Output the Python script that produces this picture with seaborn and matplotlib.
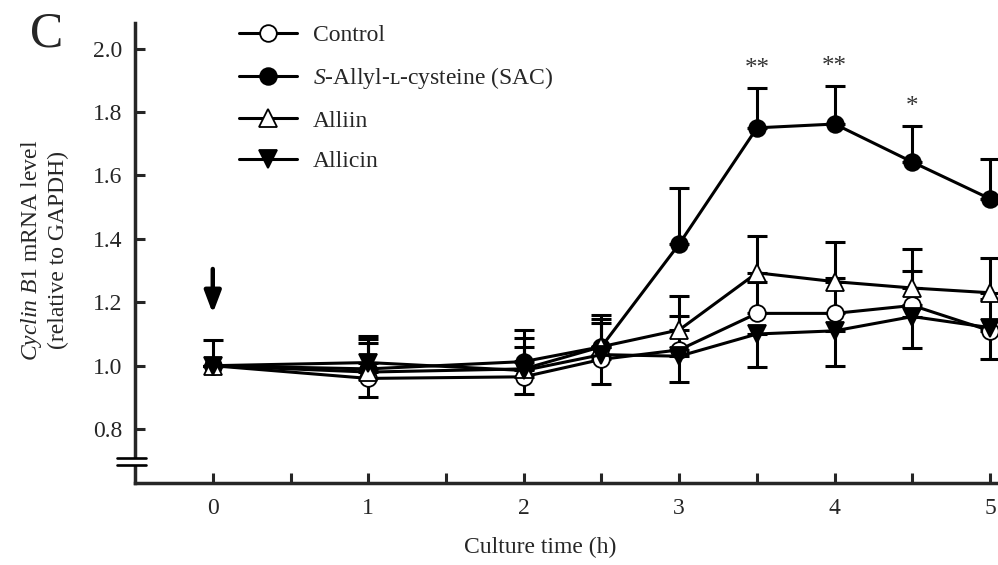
import numpy as np
import pandas as pd
import matplotlib
matplotlib.use("Agg")
import matplotlib.pyplot as plt
import matplotlib.transforms as mtransforms
import seaborn as sns

# ── data ──────────────────────────────────────────────────────
times = [0, 1, 2, 2.5, 3, 3.5, 4, 4.5, 5]

control = [1.00, 0.96, 0.965, 1.02, 1.05, 1.165, 1.165, 1.19, 1.11]
control_hi = [0.08, 0, 0, 0, 0.107, 0.10, 0.112, 0.11, 0.10]
control_lo = [0, 0.06, 0.053, 0.077, 0, 0, 0, 0, 0]

sac = [1.00, 0.99, 1.013, 1.06, 1.384, 1.75, 1.762, 1.642, 1.526]
sac_hi = [0, 0.104, 0.10, 0.10, 0.176, 0.126, 0.12, 0.114, 0.126]
sac_lo = [0, 0, 0, 0, 0, 0, 0, 0, 0]

alliin = [1.00, 0.98, 0.99, 1.06, 1.113, 1.293, 1.265, 1.245, 1.23]
alliin_hi = [0, 0.105, 0.098, 0.088, 0.107, 0.117, 0.125, 0.123, 0.11]
alliin_lo = [0, 0, 0, 0, 0, 0, 0, 0, 0]

allicin = [1.00, 1.01, 0.985, 1.035, 1.03, 1.10, 1.11, 1.155, 1.12]
allicin_hi = [0, 0.062, 0.075, 0.10, 0, 0, 0, 0, 0]
allicin_lo = [0, 0, 0, 0, 0.08, 0.103, 0.11, 0.098, 0.098]

labels = ["Control",
          "$\\mathit{S}$-Allyl-\u029f-cysteine (SAC)",
          "Alliin",
          "Allicin"]
sig_times = [3.5, 4, 4.5]
sig_marks = ["**", "**", "*"]

sns.set_style("ticks")
plt.rcParams["font.family"] = ["Liberation Serif", "DejaVu Serif"]
plt.rcParams["mathtext.fontset"] = "custom"
plt.rcParams["mathtext.rm"] = "Liberation Serif"
plt.rcParams["mathtext.it"] = "Liberation Serif:italic"

FS = 17
series = [
    (control, control_hi, control_lo, "o", "white"),
    (sac, sac_hi, sac_lo, "o", "black"),
    (alliin, alliin_hi, alliin_lo, "^", "white"),
    (allicin, allicin_hi, allicin_lo, "v", "black"),
]

fig = plt.figure(figsize=(9.98, 5.65), dpi=100)
ax = fig.add_axes([0.1353, 0.145, 0.8647, 0.814])

handles = []
for i, (vals, hi, lo, mk, fc) in enumerate(series):
    df = pd.DataFrame({"t": times, "v": vals})
    ax.errorbar(times, vals, yerr=[lo, hi], fmt="none", ecolor="black",
                elinewidth=2.2, capsize=7.5, capthick=2.2, zorder=2)
    sns.lineplot(data=df, x="t", y="v", ax=ax, color="black", lw=2.2,
                 marker=mk, markersize=12.5 if mk != "o" else 12,
                 markerfacecolor=fc, markeredgecolor="black",
                 markeredgewidth=1.3, zorder=3 + i)
    handles.append(ax.lines[-1])

leg = fig.legend(handles=handles, labels=labels, loc="upper left",
                 bbox_to_anchor=(0.2275, 0.977), frameon=False, fontsize=FS,
                 handlelength=2.45, handletextpad=0.7, labelspacing=0.8,
                 borderpad=0, numpoints=1)

# significance marks above SAC error bars
for t, s in zip(sig_times, sig_marks):
    k = times.index(t)
    ax.text(t, sac[k] + sac_hi[k] + 0.06, s, ha="center", va="center",
            fontsize=18, color="#333333")

# treatment arrow at time 0
ax.annotate("", xy=(0, 1.165), xytext=(0, 1.305),
            arrowprops=dict(arrowstyle="-|>,head_width=0.25,head_length=0.66",
                            mutation_scale=20, shrinkA=0, shrinkB=0,
                            color="black", lw=3.2))

ax.set_xlim(-0.5, 5.05)
ax.set_ylim(0.63, 2.08)
ax.set_xticks(np.arange(0, 5.01, 0.5))
ax.set_xticklabels([str(int(t)) if t == int(t) else "" for t in np.arange(0, 5.01, 0.5)])
ax.set_yticks(np.arange(0.8, 2.01, 0.2))
ax.set_yticklabels([f"{v:.1f}" for v in np.arange(0.8, 2.01, 0.2)])
ax.tick_params(direction="in", length=7, width=2.2, labelsize=FS)
ax.tick_params(axis="x", pad=11)
ax.tick_params(axis="y", pad=9)
sns.despine(ax=ax)
for sp in ["left", "bottom"]:
    ax.spines[sp].set_linewidth(2.5)

ax.set_xlabel("Culture time (h)", fontsize=FS)
ax.set_ylabel("")
ax.xaxis.set_label_coords(0.47, -0.118)
fig.text(0.044, 0.557, "$\\mathit{Cyclin\\ B1}$ mRNA level\n(relative to GAPDH)",
         rotation=90, ha="center", va="center", fontsize=FS, multialignment="center")

# axis break on y
tr = mtransforms.blended_transform_factory(ax.transAxes, ax.transData)
ax.fill_between([-0.03, 0.015], 0.690, 0.706, color="white", transform=tr,
                clip_on=False, zorder=10)
for yb in (0.687, 0.709):
    ax.plot([-0.021, 0.013], [yb, yb], color="black", lw=1.9, transform=tr,
            clip_on=False, zorder=11)

fig.text(0.03, 0.981, "C", fontsize=36, ha="left", va="top")

fig.savefig("out.png", dpi=100)
